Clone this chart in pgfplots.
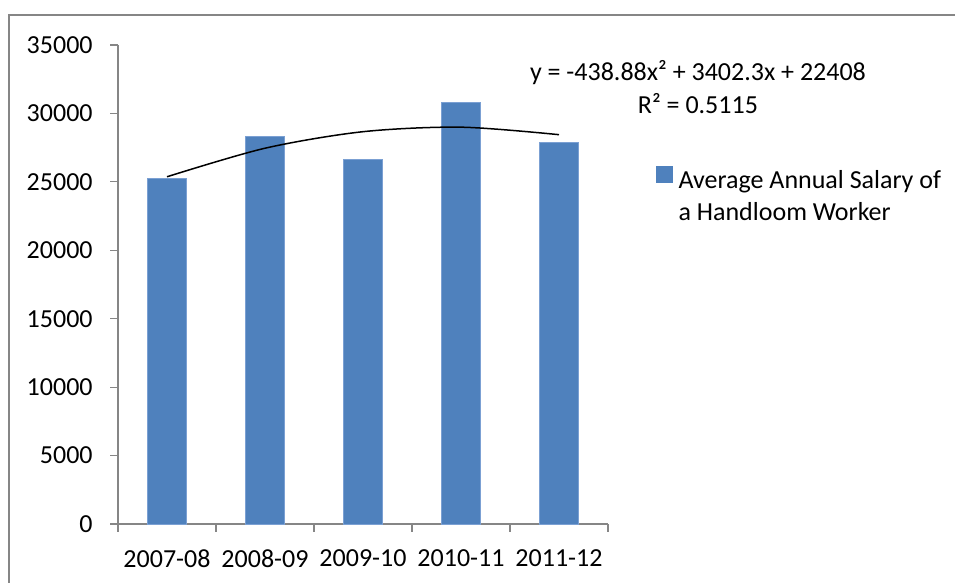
\documentclass[border=0pt]{standalone}
\usepackage{pgfplots}
\pgfplotsset{compat=1.18}
\usepackage{fontspec}
\setmainfont{Carlito}
\definecolor{barblue}{HTML}{4F81BD}
\definecolor{baredge}{HTML}{7BA0D3}
\definecolor{axgray}{HTML}{868686}
\begin{document}
\fontsize{13pt}{16pt}\selectfont
\begin{tikzpicture}
\useasboundingbox (0,0) rectangle (477.5pt,291.5pt);
\draw[axgray, line width=0.6pt] (4.5pt,0) -- (4.5pt,284pt) -- (477.5pt,284pt);
\begin{axis}[
  at={(59pt,29.5pt)}, anchor=south west,
  scale only axis, width=245pt, height=239.5pt,
  xmin=0.5, xmax=5.5, ymin=0, ymax=35000,
  clip=false,
  axis lines=left,
  axis line style={-, draw=axgray, line width=0.6pt},
  tick align=outside,
  xtick={1,2,3,4,5},
  xticklabels={2007-08,2008-09,2009-10,2010-11,2011-12},
  major x tick style={draw=none},
  minor xtick={0.5,1.5,2.5,3.5,4.5,5.5},
  minor x tick style={axgray, line width=0.6pt},
  minor tick length=4pt,
  major tick length=4pt,
  ytick={0,5000,10000,15000,20000,25000,30000,35000},
  y tick style={axgray, line width=0.6pt},
  scaled y ticks=false,
  /pgf/number format/assume math mode=true,
  yticklabel style={/pgf/number format/fixed, /pgf/number format/1000 sep={}, font=\fontsize{13pt}{16pt}\selectfont, inner sep=0pt, xshift=-8.5pt},
  xticklabel style={font=\fontsize{13pt}{16pt}\selectfont, inner sep=0pt, yshift=-8.5pt},
  legend style={draw=none, fill=none, at={(axis description cs:1.098,0.748)}, anchor=north west,
    inner sep=0pt, outer sep=0pt, nodes={inner sep=0pt, font=\fontsize{13pt}{16pt}\selectfont}, column sep=3pt},
  legend cell align=left,
  legend image code/.code={\fill[barblue] (0pt,-0.3pt) rectangle (8pt,7.7pt);},
]
\addplot[ybar, bar width=0.4, fill=barblue, draw=baredge, line width=0.3pt]
  coordinates {(1,25260) (2,28330) (3,26650) (4,30790) (5,27890)};
\addlegendentry{\parbox[t]{160pt}{Average Annual Salary of\\a Handloom Worker}}
\addplot[black, line width=0.75pt, smooth, forget plot]
  coordinates {(1,25371.4) (2,27457.1) (3,28665.0) (4,28995.1) (5,28447.5)};
\node[anchor=base] at (axis cs:6.418,32400) {y = -438.88x² + 3402.3x + 22408};
\node[anchor=base] at (axis cs:6.418,30000) {R² = 0.5115};
\end{axis}
\end{tikzpicture}
\end{document}
